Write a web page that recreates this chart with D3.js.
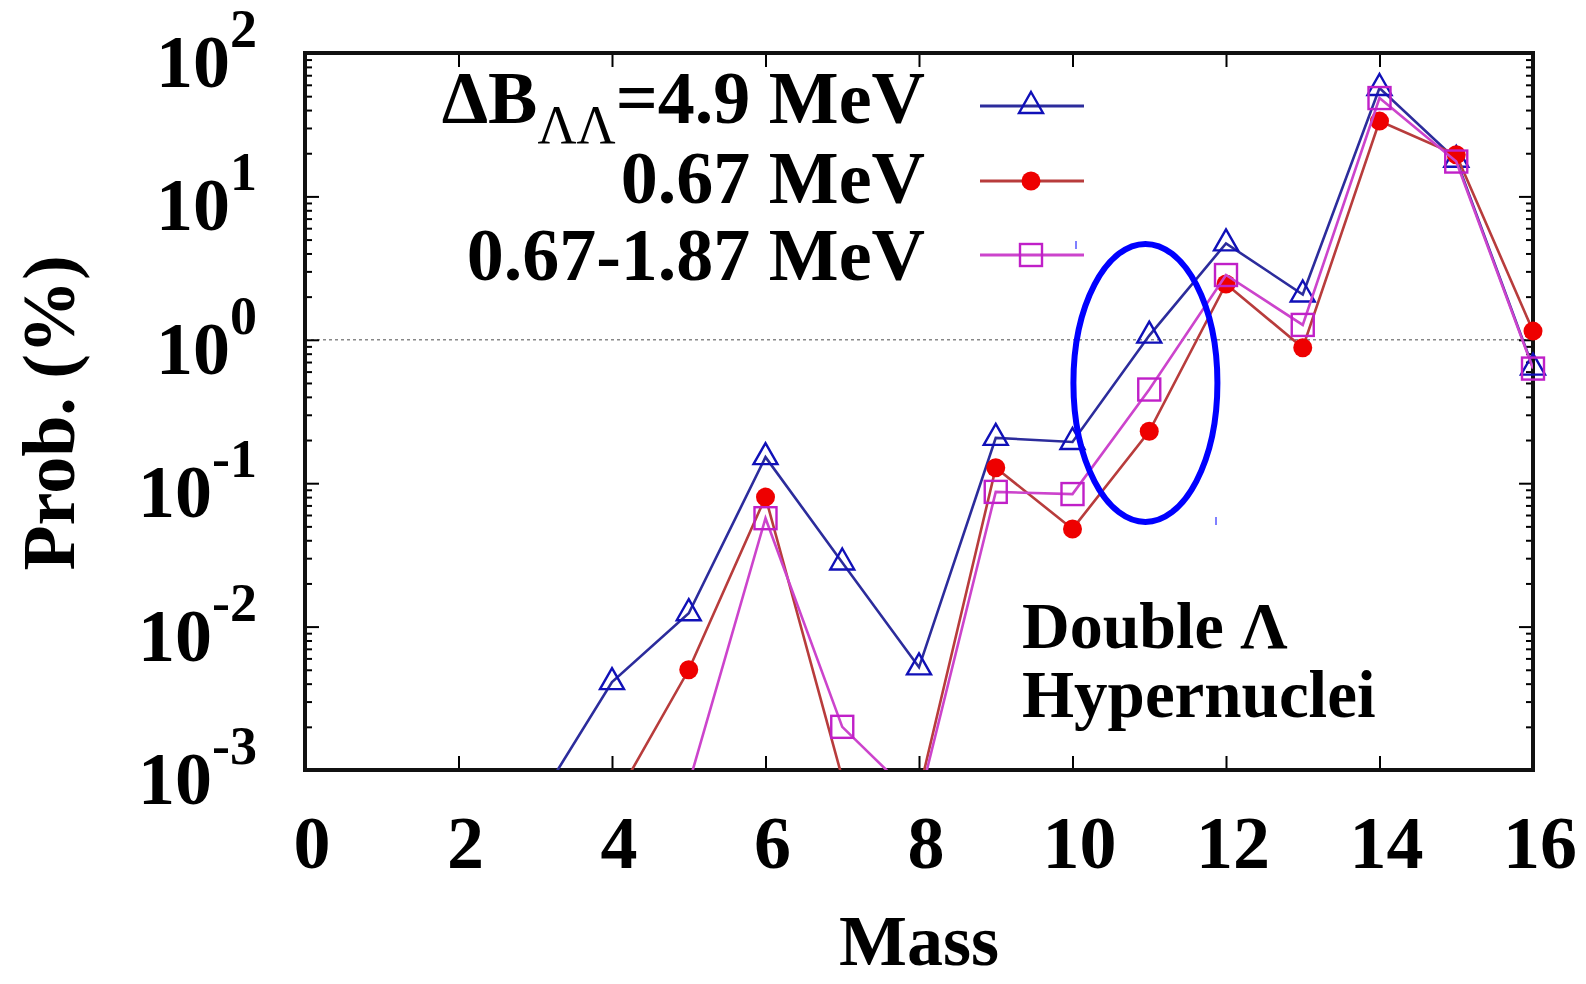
<!DOCTYPE html>
<html>
<head>
<meta charset="utf-8">
<title>Double Lambda hypernuclei mass distribution</title>
<script src="https://cdn.jsdelivr.net/npm/d3@7"></script>
<style>
  html, body { margin: 0; padding: 0; background: #fff; overflow: hidden; }
  svg { display: block; }
  text { font-family: "Liberation Serif", "Times New Roman", serif; font-weight: bold; fill: #000; }
</style>
</head>
<body>
<svg id="chart" width="1586" height="984"></svg>
<script>
// data (Prob. in %), null = not shown
const masses = [3, 4, 5, 6, 7, 8, 9, 10, 11, 12, 13, 14, 15, 16];
const prob49 = [0.00056, 0.0041, 0.0124, 0.152, 0.028, 0.0052, 0.207, 0.194, 1.07, 4.7, 2.07, 57, 18, 0.64];
const prob067 = [null, 0.00057, 0.005, 0.080, 0.00088, 0.0007, 0.128, 0.048, 0.23, 2.45, 0.88, 33.5, 19.5, 1.15];
const prob067to187 = [null, null, 0.0008, 0.057, 0.002, 0.0006, 0.087, 0.084, 0.45, 2.83, 1.27, 48.5, 17.5, 0.63];
const xTicks = [0, 2, 4, 6, 8, 10, 12, 14, 16];
const yExponents = [-3, -2, -1, 0, 1, 2];
const legendLabels = ["=4.9 MeV", "0.67 MeV", "0.67-1.87 MeV"];

const svg = d3.select("#chart");
const plotLeft = 305, plotRight = 1533, plotTop = 53, plotBottom = 770;

const x = d3.scaleLinear().domain([0, 16]).range([plotLeft, plotRight]);
const y = d3.scaleLog().domain([1e-3, 1e2]).range([plotBottom, plotTop]);

// clip for lines
svg.append("defs").append("clipPath").attr("id", "plotclip")
  .append("rect").attr("x", plotLeft).attr("y", plotTop)
  .attr("width", plotRight - plotLeft).attr("height", plotBottom - plotTop);

// dotted line at 10^0
svg.append("line")
  .attr("x1", plotLeft).attr("x2", plotRight)
  .attr("y1", y(1)).attr("y2", y(1))
  .attr("stroke", "#888").attr("stroke-width", 1.5)
  .attr("stroke-dasharray", "3,3");

// ticks
const minorVals = [];
yExponents.slice(0, -1).forEach(e => {
  for (let k = 2; k <= 9; k++) minorVals.push(k * Math.pow(10, e));
});
const majorVals = yExponents.map(e => Math.pow(10, e));

function tickStyle(g) {
  g.select(".domain").remove();
  g.selectAll("line").attr("stroke", "#000").attr("stroke-width", 2);
  g.selectAll("text").remove();
}

svg.append("g").attr("transform", `translate(${plotLeft},0)`)
  .call(d3.axisLeft(y).tickValues(majorVals).tickSize(-14).tickFormat("")).call(tickStyle);
svg.append("g").attr("transform", `translate(${plotLeft},0)`)
  .call(d3.axisLeft(y).tickValues(minorVals).tickSize(-7).tickFormat("")).call(tickStyle);
svg.append("g").attr("transform", `translate(${plotRight},0)`)
  .call(d3.axisRight(y).tickValues(majorVals).tickSize(-14).tickFormat("")).call(tickStyle);
svg.append("g").attr("transform", `translate(${plotRight},0)`)
  .call(d3.axisRight(y).tickValues(minorVals).tickSize(-7).tickFormat("")).call(tickStyle);
svg.append("g").attr("transform", `translate(0,${plotBottom})`)
  .call(d3.axisBottom(x).tickValues(xTicks).tickSize(-14).tickFormat("")).call(tickStyle);
svg.append("g").attr("transform", `translate(0,${plotTop})`)
  .call(d3.axisTop(x).tickValues(xTicks).tickSize(-14).tickFormat("")).call(tickStyle);

// frame
svg.append("rect")
  .attr("x", plotLeft).attr("y", plotTop)
  .attr("width", plotRight - plotLeft).attr("height", plotBottom - plotTop)
  .attr("fill", "none").attr("stroke", "#111").attr("stroke-width", 4);

// y tick labels 10^n
yExponents.forEach(e => {
  const t = svg.append("text")
    .attr("x", 257).attr("y", y(Math.pow(10, e)) + 34)
    .attr("text-anchor", "end")
    .style("font-size", "74px");
  t.append("tspan").text("10");
  t.append("tspan").attr("dy", -40).style("font-size", "54px").text(String(e));
});

// x tick labels
xTicks.forEach(v => {
  svg.append("text")
    .attr("x", x(v) + 7).attr("y", 868)
    .attr("text-anchor", "middle")
    .style("font-size", "74px")
    .text(v);
});

// axis titles
svg.append("text")
  .attr("x", (plotLeft + plotRight) / 2).attr("y", 965)
  .attr("text-anchor", "middle")
  .style("font-size", "72px")
  .text("Mass");
svg.append("text")
  .attr("transform", "translate(74,413) rotate(-90)")
  .attr("text-anchor", "middle")
  .style("font-size", "74px")
  .text("Prob. (%)");

// series
const series = [
  { values: prob49, line: "#2c2c9c", mark: "#1010b8", shape: "tri" },
  { values: prob067, line: "#b83c3c", mark: "#ee0000", shape: "circle" },
  { values: prob067to187, line: "#cc44cc", mark: "#c020c8", shape: "square" }
];

const lineGen = d3.line()
  .defined(d => d.v != null)
  .x(d => x(d.m))
  .y(d => y(d.v));

function drawMarker(g, shape, color, cx, cy) {
  if (shape === "tri") {
    g.append("path")
      .attr("d", `M${cx},${cy - 14}L${cx + 12},${cy + 7}L${cx - 12},${cy + 7}Z`)
      .attr("fill", "none").attr("stroke", color).attr("stroke-width", 2.4);
  } else if (shape === "circle") {
    g.append("circle").attr("cx", cx).attr("cy", cy).attr("r", 9.5)
      .attr("fill", color);
  } else {
    g.append("rect").attr("x", cx - 11).attr("y", cy - 11)
      .attr("width", 22).attr("height", 22)
      .attr("fill", "none").attr("stroke", color).attr("stroke-width", 2.4);
  }
}

series.forEach(s => {
  const pts = masses.map((m, i) => ({ m: m, v: s.values[i] }));
  svg.append("path")
    .datum(pts)
    .attr("clip-path", "url(#plotclip)")
    .attr("d", lineGen)
    .attr("fill", "none")
    .attr("stroke", s.line)
    .attr("stroke-width", 2.6);
  const g = svg.append("g");
  pts.filter(d => d.v != null && d.v >= 1e-3 && d.v <= 1e2)
    .forEach(d => drawMarker(g, s.shape, s.mark, x(d.m), y(d.v)));
});

// legend
const legendBase = [123, 203, 280];
const legendLineY = [106, 181, 255];
series.forEach((s, i) => {
  const t = svg.append("text")
    .attr("x", 925).attr("y", legendBase[i])
    .attr("text-anchor", "end")
    .style("font-size", "74px");
  if (i === 0) {
    t.append("tspan").text("ΔB");
    t.append("tspan").attr("dy", 20).style("font-size", "54px").style("font-weight", "normal").text("ΛΛ");
    t.append("tspan").attr("dy", -20).text(legendLabels[i]);
  } else {
    t.text(legendLabels[i]);
  }
  svg.append("line")
    .attr("x1", 980).attr("x2", 1084)
    .attr("y1", legendLineY[i]).attr("y2", legendLineY[i])
    .attr("stroke", s.line).attr("stroke-width", 2.8);
  drawMarker(svg.append("g"), s.shape, s.mark, 1031, legendLineY[i]);
});

// annotation
svg.append("ellipse")
  .attr("cx", x(10.95)).attr("cy", y(0.5))
  .attr("rx", 72).attr("ry", 139)
  .attr("fill", "none").attr("stroke", "#0000ff").attr("stroke-width", 6);

svg.append("text")
  .attr("x", 1022).attr("y", 648)
  .style("font-size", "66px")
  .text("Double Λ");
svg.append("text")
  .attr("x", 1022).attr("y", 717)
  .style("font-size", "67px")
  .text("Hypernuclei");

// small stray marks in the source picture
[[1076, 241, 249], [1216, 517, 525]].forEach(p => {
  svg.append("line").attr("x1", p[0]).attr("x2", p[0])
    .attr("y1", p[1]).attr("y2", p[2])
    .attr("stroke", "#0000ff").attr("stroke-width", 1);
});
</script>
</body>
</html>
